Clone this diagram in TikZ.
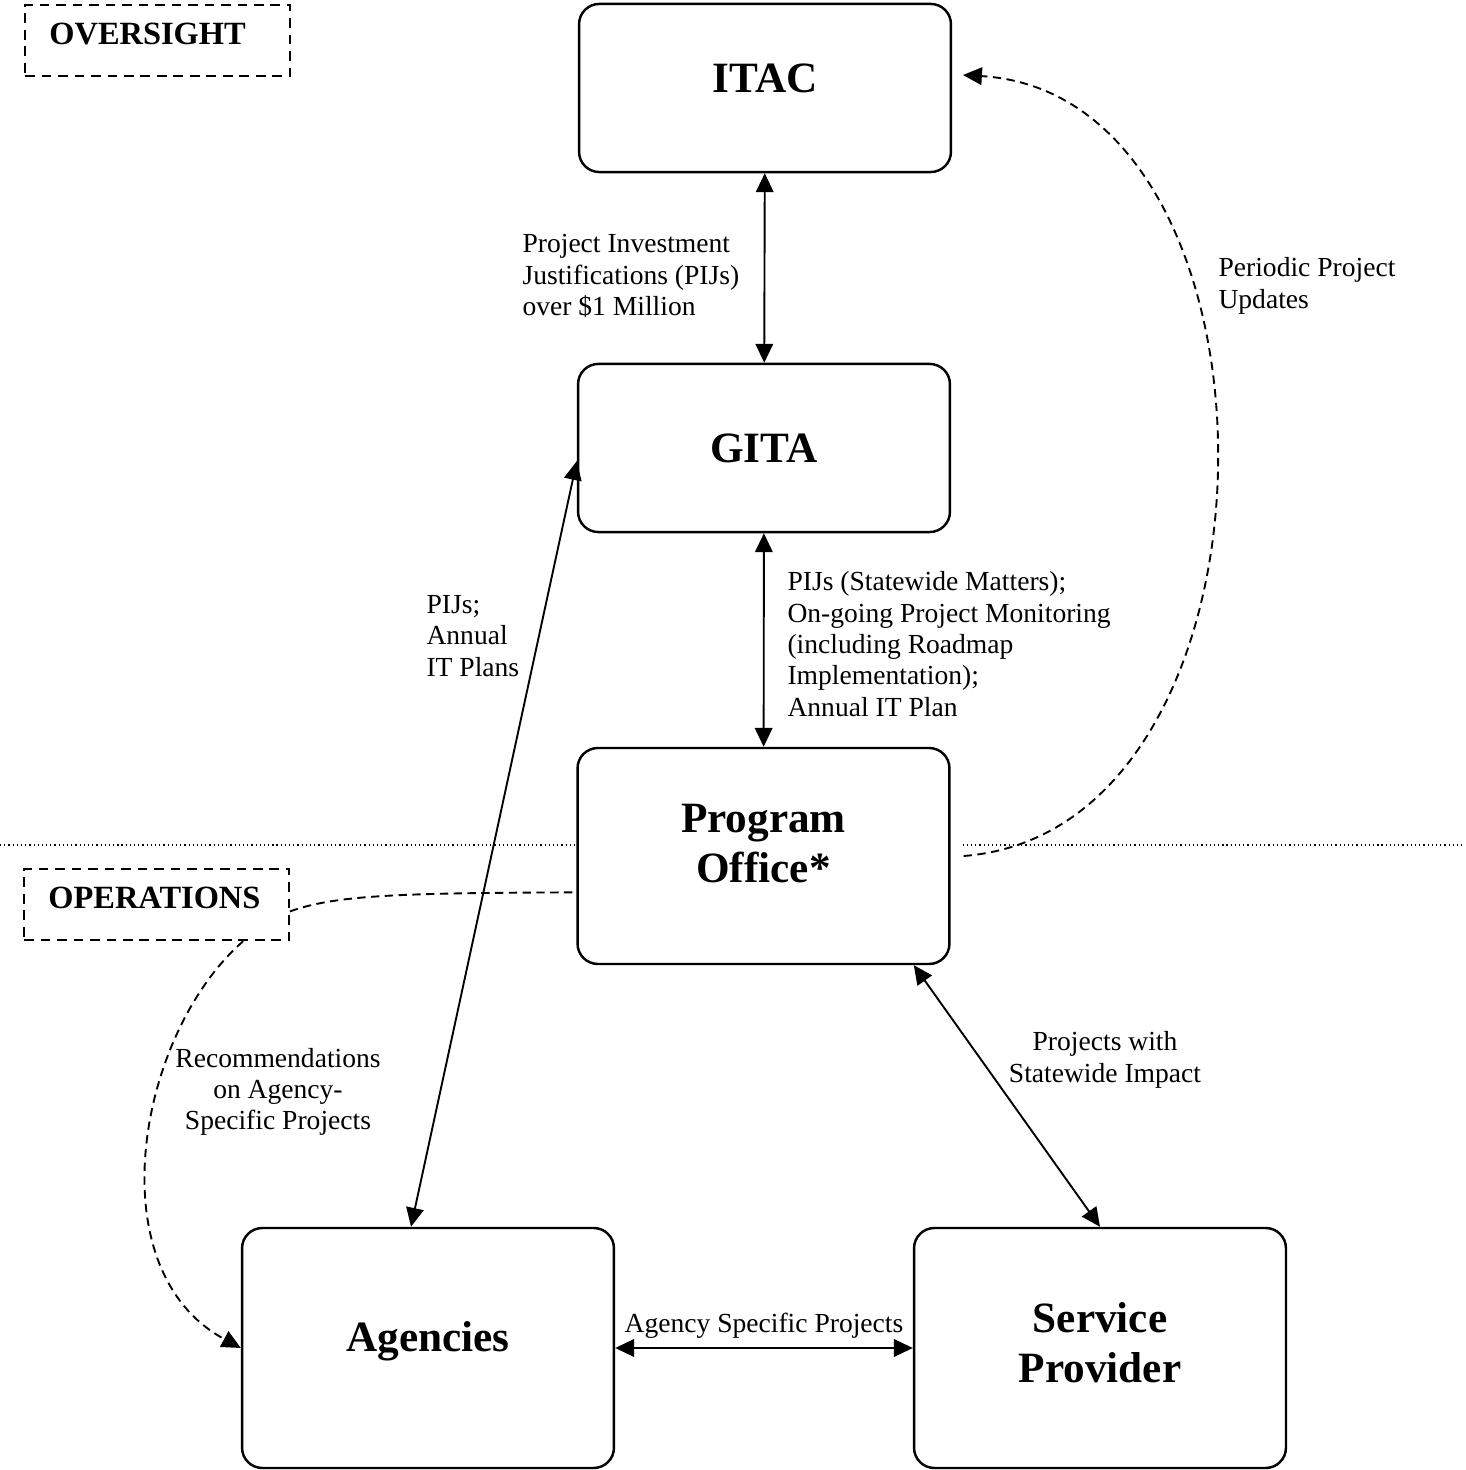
\documentclass[tikz,border=0pt]{standalone}
\usepackage{fontspec}
\setmainfont{Liberation Serif}
\usetikzlibrary{arrows.meta}

\begin{document}
\begin{tikzpicture}[x=0.37pt,y=0.37pt,
    unit box/.style={draw,line width=0.9pt,rounded corners=7.5pt,fill=white,
      minimum width=137.6pt,align=center,font=\bfseries\fontsize{16}{18.5}\selectfont},
    zone/.style={draw,line width=0.7pt,dash pattern=on 3.6pt off 2.5pt,
      text width=80pt,inner xsep=9pt,minimum height=26.5pt,align=left,
      text depth=4.8pt,font=\bfseries\fontsize{12}{14}\selectfont},
    link/.style={line width=0.7pt,{Triangle[length=7pt,width=6.5pt]}-{Triangle[length=7pt,width=6.5pt]}},
    feed/.style={line width=0.7pt,dash pattern=on 3.1pt off 2pt},
    divider/.style={line width=0.4pt,dash pattern=on 0.45pt off 1.1pt},
    note/.style={font=\fontsize{10.2}{11.6}\selectfont,inner sep=0pt}]

    \useasboundingbox (0,0) rectangle (1465,1470);

    % Areas
    \node[zone] (over) at (157.5,1429.5) {OVERSIGHT};
    \node[zone] (ops) at (156.5,565.5) {OPERATIONS};

    % Units
    \node[unit box,minimum height=62.2pt,text depth=7.4pt] (itac) at (765,1382) {ITAC};
    \node[unit box,minimum height=62.2pt] (gita) at (764,1022) {GITA};
    \node[unit box,minimum height=79.9pt,text depth=9.6pt] (po) at (763.5,614) {Program\\Office*};
    \node[unit box,minimum height=88.8pt,text depth=8.7pt] (ag) at (428,122) {Agencies};
    \node[unit box,minimum height=88.8pt,text depth=4.4pt] (sp) at (1100,122) {Service\\Provider};

    % Oversight / operations divider
    \coordinate (divL) at (0,625);
    \coordinate (divR) at (1465,625);
    \draw[divider] (divL) -- (po.west |- divL);
    \draw[divider] ([xshift=4.4pt]po.east |- divL) -- (divR);

    % Two-way flows
    \draw[link] (itac) -- (gita);
    \draw[link] (gita) -- (po);
    \draw[link] (gita.184) -- (ag.98);
    \draw[link] (po.324.5) -- (sp.north);
    \draw[link] (ag) -- node[note,above=3.3pt] (agproj) {Agency Specific Projects} (sp);

    % Dashed flows
    \draw[feed,-{Triangle[length=7pt,width=6.5pt]}] ([xshift=4.8pt]po.east)
        .. controls (1300,640) and (1300,1375) .. ([shift={(4pt,4.8pt)}]itac.east);
    \draw[feed] (ops.-3) .. controls (335,575) and (400,577) .. (po.191);
    \draw[feed,-{Triangle[length=7pt,width=6.5pt]}] (ops.-23)
        .. controls (137,436) and (96,200) .. (ag.west);

    % Labels
    \node[note,anchor=west,align=left] (pijs) at (522,1194)
        {Project Investment\\Justifications (PIJs)\\over \$1 Million};
    \node[note,anchor=west,align=left] (updates) at (1218,1184)
        {Periodic Project\\Updates};
    \node[note,anchor=west,align=left] (monitor) at (787,826)
        {PIJs (Statewide Matters);\\On-going Project Monitoring\\(including Roadmap\\Implementation);\\Annual IT Plan};
    \node[note,anchor=west,align=left] (plans) at (426,834)
        {PIJs;\\Annual\\IT Plans};
    \node[note,align=center] (recs) at (278,378)
        {Recommendations\\on Agency-\\Specific Projects};
    \node[note,align=center] (impact) at (1105,410)
        {Projects with\\Statewide Impact};
\end{tikzpicture}
\end{document}
